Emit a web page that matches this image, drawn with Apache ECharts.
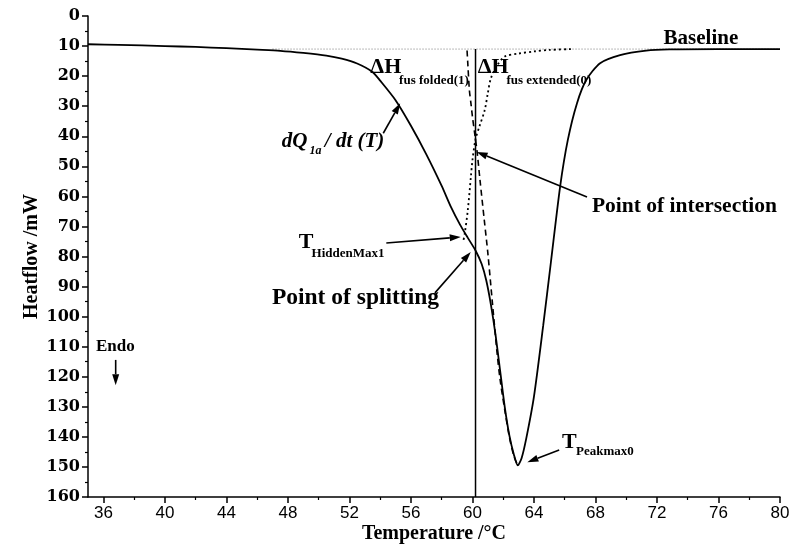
<!DOCTYPE html>
<html>
<head>
<meta charset="utf-8">
<script src="https://cdn.jsdelivr.net/npm/echarts@6/dist/echarts.min.js"></script>
<style>
  html, body { margin: 0; padding: 0; background: #fff; }
  #main { width: 790px; height: 547px; }
</style>
</head>
<body>
<div id="main"></div>
<script>
// measured DSC trace dQ1a/dt (T)
const temps = [35, 37, 40, 42, 44, 46, 47.5, 49, 50.5, 51.5, 52.5, 53.5, 54.0, 55.0, 56.0, 57.0, 58.0, 58.6, 59.2, 59.7, 60.2, 60.6, 60.9, 61.2, 61.5, 61.8, 62.1, 62.4, 62.7, 62.95, 63.2, 63.5, 64.0, 64.6, 65.1, 65.7, 66.2, 66.8, 67.4, 68.3, 69.6, 71.3, 72.8, 76, 80];
const heatflow = [9.4, 9.6, 10.0, 10.3, 10.7, 11.2, 11.6, 12.3, 13.2, 14.2, 15.8, 18.6, 21.5, 28, 36.5, 46, 56.5, 63.5, 69.5, 73.8, 78, 82.5, 88, 96, 106, 118, 130, 139.5, 146, 149.5, 147, 140.5, 126.6, 103, 82, 56.8, 41.3, 29, 21.3, 15.7, 13.0, 11.5, 11.1, 11.0, 11.0];

// dashed split component
const foldedTemps = [59.65, 59.7, 59.8, 59.9, 60.0, 60.17, 60.3, 60.5, 60.77, 61.0, 61.3, 61.6, 61.8, 62.1, 62.4, 62.7, 62.95];
const foldedHeat = [11.5, 16, 24.6, 29, 33.5, 40, 45, 55, 67.9, 78.8, 95.5, 112, 121, 131, 140, 146.5, 149.5];

// dotted split component
const extTemps = [66.4, 65, 64, 63, 62.1, 61.6, 61.2, 61.0, 60.8, 60.45, 60.2, 60.0, 59.9, 59.7, 59.5, 59.4];
const extHeat = [11, 11.3, 11.8, 12.5, 13.5, 16.5, 20.7, 25.7, 31.3, 36.8, 41, 48, 53.4, 64.5, 72.3, 75];

const baseTemps = [47, 80];
const baseHeat = [11, 11];

const splitTemp = 60.2;
const splitRange = [11, 160];

const xLabels = [36, 40, 44, 48, 52, 56, 60, 64, 68, 72, 76, 80];
const xMinor = [38, 42, 46, 50, 54, 58, 62, 66, 70, 74, 78];

const SERIF = '"Liberation Serif", "DejaVu Serif", serif';
const GRID = { left: 88, right: 10, top: 16, bottom: 50, outerBoundsMode: 'none' };

const chart = echarts.init(document.getElementById('main'));

const pairs = (xs, ys) => xs.map((x, i) => [x, ys[i]]);

chart.setOption({
  animation: false,
  grid: [GRID, Object.assign({}, GRID)],
  xAxis: [{
    type: 'value', min: 35, max: 80, gridIndex: 0, position: 'bottom',
    name: 'Temperature /\u00B0C', nameLocation: 'middle', nameGap: 27, nameMoveOverlap: false,
    nameTextStyle: { fontFamily: SERIF, fontWeight: 'bold', fontSize: 20, color: '#000' },
    axisLine: { onZero: false, lineStyle: { color: '#000', width: 1.5 } },
    axisTick: { customValues: xLabels, length: 6, lineStyle: { color: '#000', width: 1.5 } },
    axisLabel: { customValues: xLabels, color: '#000', fontSize: 17, margin: 8,
      fontFamily: '"Liberation Sans Narrow", "Liberation Sans", sans-serif' },
    splitLine: { show: false }
  }, {
    // second grid only carries the minor ticks
    type: 'value', min: 35, max: 80, gridIndex: 1, position: 'bottom',
    axisLine: { show: false, onZero: false },
    axisTick: { customValues: xMinor, length: 3, lineStyle: { color: '#000', width: 1.2 } },
    axisLabel: { show: false },
    splitLine: { show: false }
  }],
  yAxis: [{
    type: 'value', min: 0, max: 160, interval: 10, inverse: true, gridIndex: 0,
    name: 'Heatflow /mW', nameLocation: 'middle', nameGap: 46, nameRotate: 90, nameMoveOverlap: false,
    nameTextStyle: { fontFamily: SERIF, fontWeight: 'bold', fontSize: 20, color: '#000' },
    axisLine: { show: true, onZero: false, lineStyle: { color: '#000', width: 1.5 } },
    axisTick: { show: true, length: 6, lineStyle: { color: '#000', width: 1.5 } },
    minorTick: { show: true, splitNumber: 2, length: 3, lineStyle: { color: '#000', width: 1.2 } },
    axisLabel: { color: '#000', fontFamily: '"DejaVu Serif", serif', fontWeight: 'bold', fontSize: 16, margin: 8 },
    splitLine: { show: false }
  }, {
    type: 'value', min: 0, max: 160, inverse: true, gridIndex: 1, show: false
  }],
  series: [
    { type: 'line', data: pairs(baseTemps, baseHeat), symbol: 'none',
      lineStyle: { color: '#777', width: 1, type: [1, 2] } },
    { type: 'line', data: pairs(extTemps, extHeat), symbol: 'none', smooth: 0.3,
      lineStyle: { color: '#000', width: 1.8, type: [2, 3] } },
    { type: 'line', data: pairs(foldedTemps, foldedHeat), symbol: 'none', smooth: 0.3,
      lineStyle: { color: '#000', width: 1.6, type: [6, 4] } },
    { type: 'line', data: [[splitTemp, splitRange[0]], [splitTemp, splitRange[1]]], symbol: 'none',
      lineStyle: { color: '#000', width: 1.5 } },
    { type: 'line', data: pairs(temps, heatflow), symbol: 'none', smooth: 0.25,
      lineStyle: { color: '#000', width: 1.8 } }
  ]
});

// annotations, anchored in data coordinates
const labels = [
  { at: [72.43, 7.65], text: 'Baseline', size: 21 },
  { at: [53.36, 17.0], text: '\u0394H', size: 22 },
  { at: [55.23, 21.6], text: 'fus folded(1)', size: 13 },
  { at: [60.34, 17.0], text: '\u0394H', size: 22 },
  { at: [62.21, 21.6], text: 'fus extended(0)', size: 13 },
  { at: [47.6, 41.9], text: 'dQ', size: 21, italic: true },
  { at: [49.4, 44.9], text: '1a', size: 12, italic: true },
  { at: [50.4, 41.9], text: '/ dt (T)', size: 21, italic: true },
  { at: [48.7, 75.2], text: 'T', size: 22 },
  { at: [49.54, 79.2], text: 'HiddenMax1', size: 13 },
  { at: [46.96, 93.8], text: 'Point of splitting', size: 23.5 },
  { at: [67.77, 63.5], text: 'Point of intersection', size: 21.5 },
  { at: [65.83, 141.7], text: 'T', size: 22 },
  { at: [66.74, 145.0], text: 'Peakmax0', size: 13 },
  { at: [35.52, 110.1], text: 'Endo', size: 17 }
];
const arrows = [
  [[54.2, 39.0], [55.3, 29.0]],
  [[54.4, 75.5], [59.24, 73.5]],
  [[57.56, 92.1], [59.89, 78.5]],
  [[67.45, 60.2], [60.27, 45.2]],
  [[65.64, 144.4], [63.57, 148.4]],
  [[36.8, 114.4], [36.8, 122.8]]
];

const toPx = (p) => chart.convertToPixel({ xAxisIndex: 0, yAxisIndex: 0 }, p);

const graphics = [];
labels.forEach((l) => {
  const p = toPx(l.at);
  graphics.push({
    type: 'text', x: p[0], y: p[1], silent: true,
    style: {
      text: l.text, fill: '#000', fontFamily: SERIF, fontWeight: 'bold',
      fontStyle: l.italic ? 'italic' : 'normal', fontSize: l.size,
      textAlign: 'left', textVerticalAlign: 'middle'
    }
  });
});
arrows.forEach(([a, b]) => {
  const p0 = toPx(a), p1 = toPx(b);
  const ang = Math.atan2(p1[1] - p0[1], p1[0] - p0[0]);
  const L = 11, W = 3.5;
  const bx = p1[0] - L * Math.cos(ang), by = p1[1] - L * Math.sin(ang);
  const nx = -Math.sin(ang) * W, ny = Math.cos(ang) * W;
  graphics.push({
    type: 'line', silent: true,
    shape: { x1: p0[0], y1: p0[1], x2: bx, y2: by },
    style: { stroke: '#000', lineWidth: 1.6 }
  });
  graphics.push({
    type: 'polygon', silent: true,
    shape: { points: [[p1[0], p1[1]], [bx + nx, by + ny], [bx - nx, by - ny]] },
    style: { fill: '#000' }
  });
});
chart.setOption({ graphic: graphics });
</script>
</body>
</html>
